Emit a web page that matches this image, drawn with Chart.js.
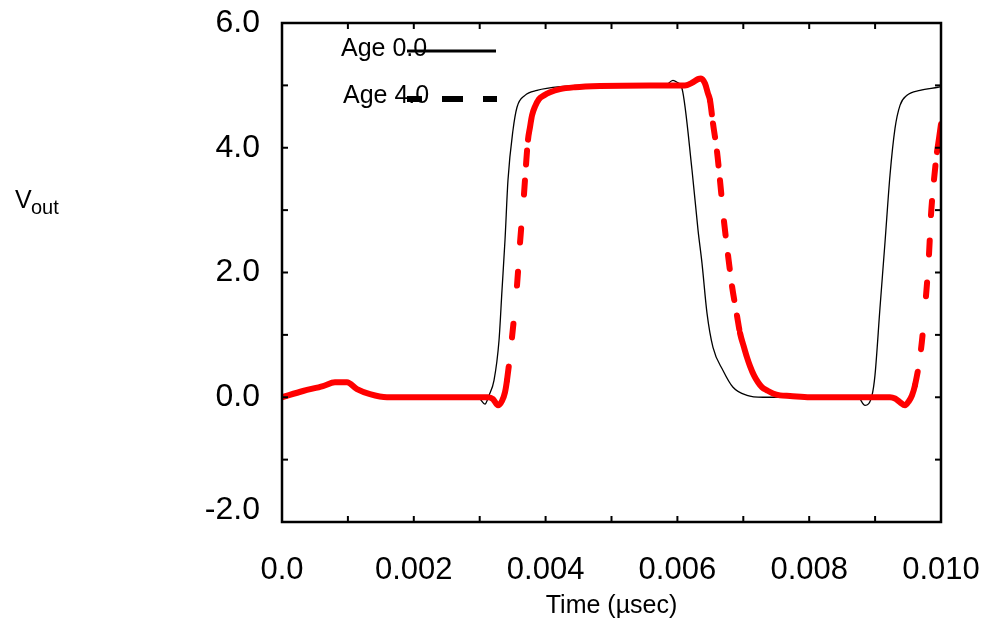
<!DOCTYPE html>
<html>
<head>
<meta charset="utf-8">
<script src="https://cdn.jsdelivr.net/npm/chart.js@4.4.1/dist/chart.umd.min.js"></script>
<style>
    body { margin: 0; background: #fff; }
    #wrap { width: 985px; height: 621px; }
</style>
</head>
<body>
<div id="wrap"><canvas id="voutChart" width="985" height="621"></canvas></div>
<script>
var seriesNames = ["Age 0.0", "Age 4.0"];
var xTickLabels = ["0.0", "0.002", "0.004", "0.006", "0.008", "0.010"];
var yTickLabels = ["-2.0", "0.0", "2.0", "4.0", "6.0"];

// Age 0.0 (thin black)
var ageZeroTime = [0, 0.000319, 0.000622, 0.000804, 0.000986, 0.001138, 0.001335, 0.001593, 0.002853, 0.003005,
    0.003080, 0.003141, 0.003217, 0.003293, 0.003338, 0.003384, 0.003429, 0.003505, 0.003566, 0.003687,
    0.003869, 0.004219, 0.004825, 0.005812, 0.005933, 0.005994, 0.006070, 0.006222, 0.006313, 0.006373,
    0.006449, 0.006540, 0.006692, 0.006844, 0.007056, 0.007299, 0.008740, 0.008847, 0.008953, 0.008998,
    0.009074, 0.009150, 0.009226, 0.009302, 0.009378, 0.009484, 0.009681, 0.009954, 0.010000];
var ageZeroVout = [0, 0.10, 0.18, 0.24, 0.24, 0.13, 0.05, 0.00, 0.00, -0.03,
    -0.11, 0.03, 0.27, 0.91, 1.71, 2.52, 3.48, 4.28, 4.65, 4.84,
    4.92, 4.98, 5.00, 5.00, 5.08, 5.05, 4.95, 3.64, 2.68, 2.15,
    1.35, 0.80, 0.43, 0.16, 0.03, 0.00, 0.00, -0.13, 0.03, 0.35,
    1.43, 2.48, 3.56, 4.31, 4.68, 4.84, 4.92, 4.97, 4.98];

// Age 4.0 (thick red, dashed on the edges)
var ageFourTime = [0, 0.000319, 0.000622, 0.000804, 0.000986, 0.001138, 0.001335, 0.001593, 0.003126, 0.003202,
    0.003278, 0.003338, 0.003384, 0.003414, 0.003490, 0.003566, 0.003612, 0.003672, 0.003703, 0.003733,
    0.003763, 0.003794, 0.003839, 0.003900, 0.003976, 0.004067, 0.004219, 0.004446, 0.004825, 0.005584,
    0.006115, 0.006237, 0.006313, 0.006358, 0.006419, 0.006464, 0.006495, 0.006540, 0.006601, 0.006646,
    0.006707, 0.006768, 0.006829, 0.006904, 0.006950, 0.007011, 0.007056, 0.007102, 0.007162, 0.007223,
    0.007284, 0.007360, 0.007451, 0.007557, 0.007709, 0.008012, 0.009226, 0.009302, 0.009378, 0.009454,
    0.009514, 0.009560, 0.009605, 0.009697, 0.009772, 0.009818, 0.009848, 0.009894, 0.009939, 0.009970,
    0.010000];
var ageFourVout = [0, 0.10, 0.18, 0.24, 0.24, 0.13, 0.05, 0.00, 0.00, -0.03,
    -0.13, -0.06, 0.08, 0.27, 0.96, 1.79, 2.48, 3.25, 3.73, 4.13,
    4.33, 4.52, 4.66, 4.78, 4.84, 4.89, 4.94, 4.97, 4.99, 5.00,
    5.00, 5.05, 5.10, 5.11, 5.03, 4.87, 4.76, 4.39, 3.94, 3.48,
    2.82, 2.28, 1.78, 1.31, 1.03, 0.80, 0.64, 0.50, 0.35, 0.24,
    0.16, 0.11, 0.06, 0.03, 0.02, 0.00, 0.00, -0.02, -0.08, -0.13,
    -0.06, 0.03, 0.19, 0.77, 1.62, 2.29, 2.92, 3.49, 3.93, 4.15,
    4.38];

function toPoints(xs, ys) {
    var pts = [];
    for (var i = 0; i < xs.length; i++) {
        pts.push({ x: xs[i], y: ys[i] });
    }
    return pts;
}

// long edges get a dash that restarts at every vertex
function isSteep(ctx) {
    return Math.abs(ctx.p1.y - ctx.p0.y) > 15;
}

function line(ctx, x1, y1, x2, y2) {
    ctx.beginPath();
    ctx.moveTo(x1, y1);
    ctx.lineTo(x2, y2);
    ctx.stroke();
}

var frameAndKey = {
    id: 'frameAndKey',
    afterDatasetsDraw: function (chart) {
        var ctx = chart.ctx, a = chart.chartArea;
        var xs = chart.scales.x, ys = chart.scales.y;
        ctx.save();
        ctx.strokeStyle = '#000';
        ctx.lineWidth = 2;
        xs.ticks.forEach(function (t) {
            var px = xs.getPixelForValue(t.value);
            line(ctx, px, a.bottom, px, a.bottom - 6);
            line(ctx, px, a.top, px, a.top + 6);
        });
        ys.ticks.forEach(function (t) {
            var py = ys.getPixelForValue(t.value);
            line(ctx, a.left, py, a.left + 6, py);
            line(ctx, a.right, py, a.right - 6, py);
        });
        ctx.lineWidth = 2.5;
        ctx.strokeRect(a.left, a.top, a.right - a.left, a.bottom - a.top);

        // key
        ctx.fillStyle = '#000';
        ctx.font = '25px "Liberation Sans", Arial, sans-serif';
        ctx.textAlign = 'left';
        ctx.textBaseline = 'alphabetic';
        ctx.fillText(seriesNames[0], 341, 56);
        ctx.lineWidth = 3;
        line(ctx, 407, 51, 496, 51);
        ctx.fillText(seriesNames[1], 343, 103);
        ctx.lineWidth = 6;
        ctx.setLineDash([21, 20]);
        ctx.lineDashOffset = 6;
        line(ctx, 407, 99, 497, 99);
        ctx.setLineDash([]);

        // y axis name with subscript
        ctx.font = '25px "Liberation Sans", Arial, sans-serif';
        ctx.fillText('V', 15, 208);
        ctx.font = '20px "Liberation Sans", Arial, sans-serif';
        ctx.fillText('out', 31, 214);
        ctx.restore();
    }
};

var tickFont = '"Liberation Sans", Arial, sans-serif';

new Chart(document.getElementById('voutChart'), {
    type: 'line',
    plugins: [frameAndKey],
    data: {
        datasets: [
            {
                label: seriesNames[1],
                data: toPoints(ageFourTime, ageFourVout),
                borderColor: '#ff0000',
                borderWidth: 6,
                borderCapStyle: 'round',
                borderJoinStyle: 'round',
                cubicInterpolationMode: 'monotone',
                pointRadius: 0,
                order: 0,
                segment: {
                    borderDash: function (ctx) { return isSteep(ctx) ? [14, 1000] : []; },
                    borderDashOffset: function (ctx) { return isSteep(ctx) && ctx.p0DataIndex % 2 ? 1014 : 0; }
                }
            },
            {
                label: seriesNames[0],
                data: toPoints(ageZeroTime, ageZeroVout),
                borderColor: '#000',
                borderWidth: 1.3,
                cubicInterpolationMode: 'monotone',
                pointRadius: 0,
                order: 1
            }
        ]
    },
    options: {
        responsive: false,
        animation: false,
        devicePixelRatio: 1,
        layout: { padding: { top: 23, right: 44, left: 0, bottom: 0 } },
        plugins: {
            legend: { display: false },
            tooltip: { enabled: false }
        },
        scales: {
            x: {
                type: 'linear',
                min: 0,
                max: 0.010,
                grid: { display: false },
                border: { display: false },
                afterFit: function (scale) {
                    scale.height = 99;
                    scale.paddingLeft = 0;
                    scale.paddingRight = 0;
                },
                ticks: {
                    stepSize: 0.001,
                    autoSkip: false,
                    maxRotation: 0,
                    padding: 22,
                    color: '#000',
                    font: { family: tickFont, size: 31 },
                    callback: function (value) {
                        var k = Math.round(value * 1000);
                        return k % 2 === 0 ? xTickLabels[k / 2] : '';
                    }
                },
                title: {
                    display: true,
                    text: 'Time (\u00b5sec)',
                    color: '#000',
                    font: { family: tickFont, size: 25 },
                    padding: { top: 0, bottom: 0 }
                }
            },
            y: {
                min: -2,
                max: 6,
                grid: { display: false },
                border: { display: false },
                afterFit: function (scale) {
                    scale.width = 282;
                    scale.paddingTop = 0;
                    scale.paddingBottom = 0;
                },
                ticks: {
                    stepSize: 1,
                    autoSkip: false,
                    padding: 14,
                    color: '#000',
                    font: function (ctx) {
                        // bottom label sits a little above its tick
                        if (ctx.tick && ctx.tick.value === -2) {
                            return { family: tickFont, size: 32, lineHeight: '24px' };
                        }
                        return { family: tickFont, size: 32 };
                    },
                    callback: function (value) {
                        var k = Math.round(value + 2);
                        if (k % 2 !== 0) return '';
                        return value === -2 ? [yTickLabels[0], ''] : yTickLabels[k / 2];
                    }
                }
            }
        }
    }
});
</script>
</body>
</html>
